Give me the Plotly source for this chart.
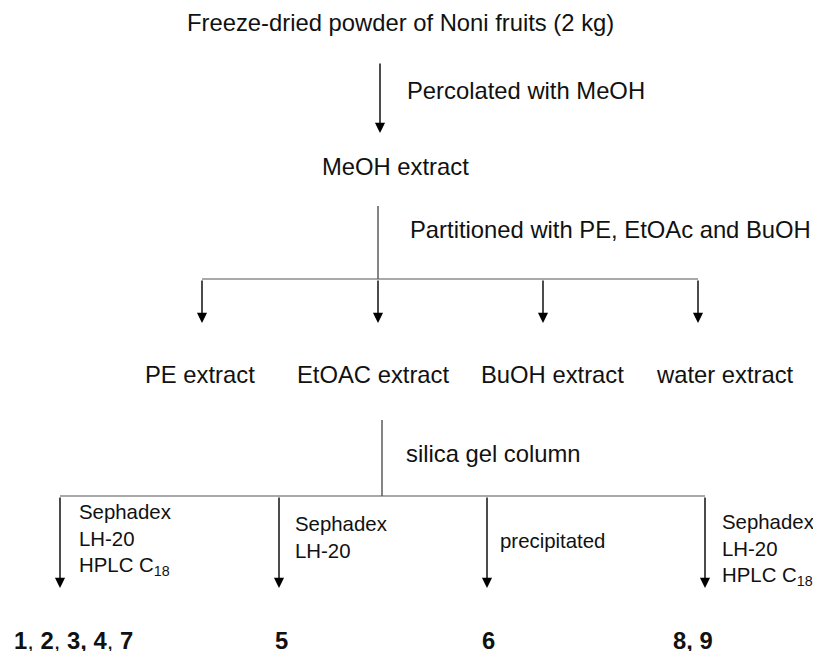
import plotly.graph_objects as go

# ---- data (texts of the flow scheme) ----
start_material = "Freeze-dried powder of Noni fruits (2 kg)"
crude_extract = "MeOH extract"
step_methods = ["Percolated with MeOH", "Partitioned with PE, EtOAc and BuOH", "silica gel column"]
extracts = ["PE extract", "EtOAC extract", "BuOH extract", "water extract"]
fraction_methods = ["Sephadex<br>LH-20<br>HPLC C<sub>18</sub>", "Sephadex<br>LH-20",
                    "precipitated", "Sephadex<br>LH-20<br>HPLC C<sub>18</sub>"]
compounds = ["<b>1</b>, <b>2</b>, <b>3,</b> <b>4</b>, <b>7</b>", "<b>5</b>", "<b>6</b>", "<b>8, 9</b>"]

# ---- layout positions (pixel-like coordinate system) ----
W, H = 813, 651
start_xy = (400, 22)
crude_xy = (395, 166)
method_xy = [(405, 90), (408, 229), (404, 453)]
extract_cx = [200, 373, 552, 725]
extract_y = 374
branch1_x = [202, 378, 543, 698]
branch1_y = (279, 323)
branch2_x = [60, 279, 487, 705]
branch2_y = (496, 588)
fm_x = [77, 293, 498, 720]
fm_y = [540, 537, 541, 550]
comp_x = [12, 273, 480, 671]
comp_y = 640

FONT = "Liberation Sans, Arial, sans-serif"
BIG = 23.8
SMALL = 20.4
INK = "#111111"

fig = go.Figure()
fig.add_trace(go.Scatter(x=[0, W], y=[0, H], mode="markers",
                         marker=dict(opacity=0), hoverinfo="skip", showlegend=False))

def line(x0, y0, x1, y1, w=1.2, color="#333333"):
    fig.add_shape(type="line", xref="x", yref="y", x0=x0, y0=y0, x1=x1, y1=y1,
                  line=dict(color=color, width=w))

def arrow(x, y0, y1):
    fig.add_annotation(x=x, y=y1, ax=x, ay=y0, xref="x", yref="y", axref="x", ayref="y",
                       text="", showarrow=True, arrowhead=2, arrowsize=1.45,
                       arrowwidth=1.4, arrowcolor="#000000")

def text(x, y, s, size=BIG, xanchor="center", yanchor="middle"):
    fig.add_annotation(x=x, y=y, xref="x", yref="y", text=s, showarrow=False,
                       xanchor=xanchor, yanchor=yanchor, align="left",
                       font=dict(family=FONT, size=size, color=INK))

# top part
text(start_xy[0], start_xy[1], start_material)
arrow(380, 62, 133)
text(method_xy[0][0], method_xy[0][1], step_methods[0], xanchor="left")
text(crude_xy[0], crude_xy[1], crude_extract)

# partition
line(378, 206, 378, branch1_y[0])
text(method_xy[1][0], method_xy[1][1], step_methods[1], xanchor="left")
line(branch1_x[0], branch1_y[0], branch1_x[-1], branch1_y[0], w=1.2, color="#555555")
for bx in branch1_x:
    arrow(bx, branch1_y[0], branch1_y[1])
for cx, s in zip(extract_cx, extracts):
    text(cx, extract_y, s)

# silica gel
line(382, 420, 382, branch2_y[0])
text(method_xy[2][0], method_xy[2][1], step_methods[2], xanchor="left")
line(branch2_x[0], branch2_y[0], branch2_x[-1], branch2_y[0], w=1.2, color="#555555")
for bx in branch2_x:
    arrow(bx, branch2_y[0], branch2_y[1])
for x, y, s in zip(fm_x, fm_y, fraction_methods):
    text(x, y, s, size=SMALL, xanchor="left")
for x, s in zip(comp_x, compounds):
    text(x, comp_y, s, xanchor="left")

fig.update_layout(
    width=W, height=H, margin=dict(l=0, r=0, t=0, b=0),
    paper_bgcolor="white", plot_bgcolor="white",
    xaxis=dict(range=[0, W], visible=False, fixedrange=True),
    yaxis=dict(range=[H, 0], visible=False, fixedrange=True),
    showlegend=False,
)
fig.write_html("out.html", config={"displayModeBar": False},
               post_script="document.body.style.margin='0px';document.body.style.overflow='hidden';")
